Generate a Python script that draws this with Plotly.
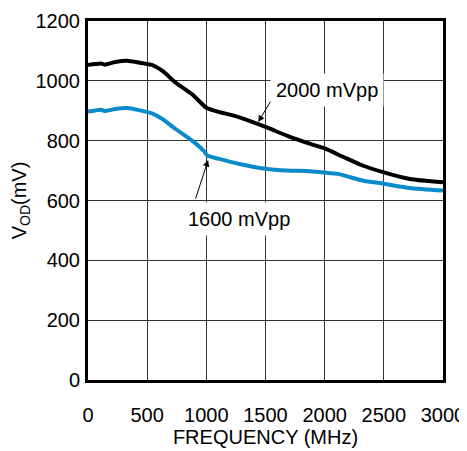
import plotly.graph_objects as go

# Data
freq_2000 = [0, 60, 110, 140, 230, 330, 430, 540, 630, 740, 880, 1000, 1080, 1280, 1500, 1680, 1880, 2000, 2150, 2320, 2500, 2720, 3000]
vod_2000 = [1053, 1056, 1058, 1054, 1063, 1067, 1061, 1053, 1033, 994, 955, 910, 899, 878, 846, 817, 789, 774, 747, 717, 694, 672, 661]

freq_1600 = [0, 60, 110, 140, 230, 330, 430, 540, 630, 740, 880, 980, 1010, 1110, 1280, 1500, 1680, 1880, 2030, 2110, 2320, 2500, 2720, 3000]
vod_1600 = [897, 901, 903, 899, 906, 909, 902, 891, 872, 839, 800, 765, 750, 739, 722, 706, 700, 698, 692, 689, 667, 656, 642, 633]

x_ticks = [0, 500, 1000, 1500, 2000, 2500, 3000]
y_ticks = [0, 200, 400, 600, 800, 1000, 1200]

FONT = "Liberation Sans, Arial, sans-serif"
FS = 20
BLUE = "#0a8bc9"

fig = go.Figure()
fig.add_trace(go.Scatter(x=freq_2000, y=vod_2000, mode="lines",
                         line=dict(color="black", width=4, shape="spline", smoothing=0.6),
                         showlegend=False, hoverinfo="skip"))
fig.add_trace(go.Scatter(x=freq_1600, y=vod_1600, mode="lines",
                         line=dict(color=BLUE, width=4, shape="spline", smoothing=0.6),
                         showlegend=False, hoverinfo="skip"))

# Labels with white background
fig.add_annotation(x=2017, y=970, text="2000 mVpp", showarrow=False,
                   font=dict(family=FONT, size=FS, color="black"),
                   bgcolor="white", borderpad=5)
fig.add_annotation(x=1275, y=539, text="1600 mVpp", showarrow=False,
                   font=dict(family=FONT, size=FS, color="black"),
                   bgcolor="white", borderpad=5)
# Arrows
fig.add_annotation(x=1439, y=862, text="", showarrow=True, arrowhead=2,
                   arrowsize=1.3, arrowwidth=1, arrowcolor="black",
                   ax=13, ay=-22, axref="pixel", ayref="pixel")
fig.add_annotation(x=1015, y=735, text="", showarrow=True, arrowhead=2,
                   arrowsize=1.3, arrowwidth=1, arrowcolor="black",
                   ax=-13, ay=40, axref="pixel", ayref="pixel")

# The page adds an 8px body margin, so the figure is sized to fit the window.
fig.update_layout(
    width=459, height=443,
    margin=dict(l=80, r=24, t=13, b=71),
    paper_bgcolor="white", plot_bgcolor="white",
    font=dict(family=FONT, size=FS, color="black"),
)
fig.update_xaxes(range=[0, 3000], tickvals=x_ticks, ticktext=[str(v) for v in x_ticks],
                 showgrid=True, gridcolor="#333333", gridwidth=1,
                 showline=True, linecolor="black", linewidth=3, mirror=True,
                 ticks="", ticklabelstandoff=15, zeroline=False, automargin=False,
                 title=dict(text="FREQUENCY (MHz)", standoff=3, font=dict(size=FS)))
fig.update_yaxes(range=[0, 1200], tickvals=y_ticks, ticktext=[str(v) for v in y_ticks],
                 showgrid=True, gridcolor="#333333", gridwidth=1,
                 showline=True, linecolor="black", linewidth=3, mirror=True,
                 ticks="", ticklabelstandoff=1, zeroline=False, automargin=False,
                 title=dict(text="V<sub>OD</sub>(mV)", standoff=6, font=dict(size=FS)))

fig.write_html("out.html")
